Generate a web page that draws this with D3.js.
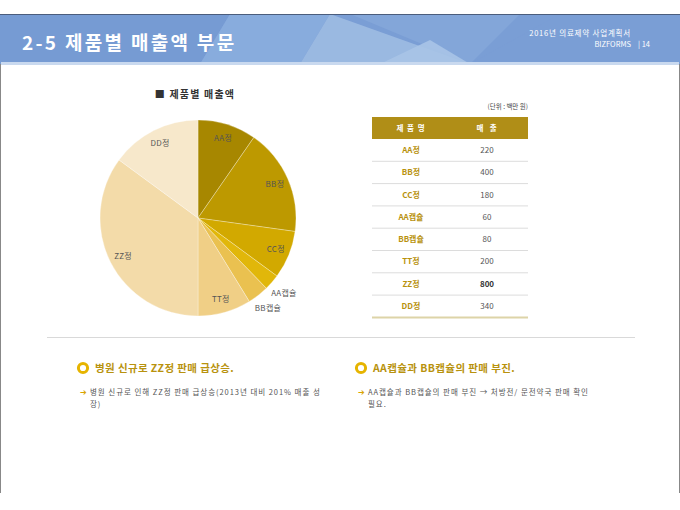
<!DOCTYPE html>
<html><head><meta charset="utf-8">
<script src="https://cdn.jsdelivr.net/npm/d3@7/dist/d3.min.js"></script>
<style>
body{margin:0;background:#fff;}
svg{display:block;font-family:"Noto Sans CJK KR","Noto Sans",sans-serif;}
</style></head>
<body><svg id="c" width="680" height="510"></svg>
<script>
const categories = ["AA정","BB정","CC정","AA캡슐","BB캡슐","TT정","ZZ정","DD정"];
const sales = [220,400,180,60,80,200,800,340];
const sliceColors = ["#a78700","#bd9900","#d2a900","#e1b70a","#eac150","#f0cf86","#f3dba9","#f7e8cb"];
const outsideLabels = ["AA캡슐","BB캡슐"];
const title = "2-5 제품별 매출액 부문";
const headerRight = ["2016년 의료제약 사업계획서","BIZFORMS"];
const pageNo = "14";
const chartTitle = "■ 제품별 매출액";
const unitLabel = "(단위 : 백만 원)";
const tableHeaders = ["제 품 명","매  출"];
const notes = [
  {head:"병원 신규로 ZZ정 판매 급상승.", body:["병원 신규로 인해 ZZ정 판매 급상승(2013년 대비 201% 매출 성","장)"]},
  {head:"AA캡슐과 BB캡슐의 판매 부진.", body:["AA캡슐과 BB캡슐의 판매 부진 → 처방전/ 문전약국 판매 확인","필요."]}
];

const svg = d3.select("#c");

// slide frame
svg.append("rect").attr("x",0).attr("y",14).attr("width",680).attr("height",480).attr("fill","#fff");
svg.append("line").attr("x1",0.5).attr("x2",0.5).attr("y1",14).attr("y2",493).attr("stroke","#888");
svg.append("line").attr("x1",679.5).attr("x2",679.5).attr("y1",14).attr("y2",493).attr("stroke","#888");

// header band
const hdr = svg.append("g");
hdr.append("rect").attr("x",0).attr("y",14).attr("width",680).attr("height",50).attr("fill","#7a9ed5");
const polys = [
  [[0,14],[230,14],[200,64],[0,64]],
  [[230,14],[330,14],[300,64],[200,64]],
  [[330,14],[470,64],[300,64]],
  [[350,14],[520,14],[470,64]],
  [[470,64],[560,14],[680,14],[680,64]],
  [[380,64],[430,40],[470,64]]
];
const pcol = ["#759ad3","#8aadde","#9dbbe2","#84a6d9","#7a9dd5","#a9c4e7"];
polys.forEach((p,i)=>hdr.append("polygon").attr("points",p.map(q=>q.join(",")).join(" ")).attr("fill",pcol[i]).attr("opacity",0.9));
hdr.append("line").attr("x1",0).attr("x2",680).attr("y1",14.5).attr("y2",14.5).attr("stroke","#4b5d7c").attr("stroke-width",1.2);
hdr.append("rect").attr("x",1).attr("y",62).attr("width",678).attr("height",3).attr("fill","#c9d9ef");
hdr.append("text").attr("x",22).attr("y",50).attr("fill","#fff").attr("font-size",19).attr("font-weight","bold").attr("letter-spacing",2.3).text(title);
hdr.append("text").attr("x",631).attr("y",36).attr("text-anchor","end").attr("fill","#fff").attr("font-size",7.5).attr("letter-spacing",0.8).text(headerRight[0]);
hdr.append("text").attr("x",631).attr("y",47).attr("text-anchor","end").attr("fill","#fff").attr("font-size",7.5).text(headerRight[1]);
hdr.append("text").attr("x",638).attr("y",47).attr("fill","#fff").attr("font-size",7.5).text("| " + pageNo);

// chart title
svg.append("text").attr("x",195).attr("y",98).attr("text-anchor","middle").attr("fill","#333").attr("font-size",10).attr("font-weight","bold").attr("letter-spacing",1.2).text(chartTitle);

// pie
const cx = 198, cy = 218, R = 98;
const pie = d3.pie().sort(null).value(d=>d.v);
const data = categories.map((c,i)=>({c, v:sales[i], col:sliceColors[i]}));
const arcs = pie(data);
const arc = d3.arc().innerRadius(0).outerRadius(R);
const inArc = d3.arc().innerRadius(84).outerRadius(84);
const outArc = d3.arc().innerRadius(114).outerRadius(114);
const g = svg.append("g").attr("transform",`translate(${cx},${cy})`);
g.selectAll("path").data(arcs).join("path").attr("d",arc).attr("fill",d=>d.data.col).attr("stroke","#fff").attr("stroke-width",0.3);
g.selectAll("text").data(arcs).join("text")
  .attr("transform",d=>`translate(${(outsideLabels.includes(d.data.c)?outArc:inArc).centroid(d)})`)
  .attr("text-anchor","middle").attr("dy","0.35em").attr("font-size",8).attr("fill","#555").attr("letter-spacing",0.3)
  .text(d=>d.data.c);

// table
const tx0 = 372, tx1 = 528, colMid = [411,487];
const yHead = 117, headH = 22, rowH = 22.3;
const y = d3.scaleBand().domain(categories).range([yHead+headH, yHead+headH+rowH*categories.length]);
svg.append("text").attr("x",tx1).attr("y",109).attr("text-anchor","end").attr("font-size",6.5).attr("fill","#444").text(unitLabel);
svg.append("rect").attr("x",tx0).attr("y",yHead).attr("width",tx1-tx0).attr("height",headH).attr("fill","#b08e17");
tableHeaders.forEach((h,i)=>svg.append("text").attr("x",colMid[i]).attr("y",yHead+headH/2).attr("dy","0.35em").attr("text-anchor","middle").attr("font-size",7.5).attr("font-weight","bold").attr("fill","#fff").attr("letter-spacing",1).attr("xml:space","preserve").text(h));
const rows = svg.append("g");
categories.forEach((c,i)=>{
  const yy = y(c);
  rows.append("text").attr("x",colMid[0]).attr("y",yy+y.bandwidth()/2).attr("dy","0.35em").attr("text-anchor","middle").attr("font-size",8).attr("font-weight","bold").attr("fill","#b8920e").text(c);
  rows.append("text").attr("x",colMid[1]).attr("y",yy+y.bandwidth()/2).attr("dy","0.35em").attr("text-anchor","middle").attr("font-size",8).attr("font-weight",sales[i]===d3.max(sales)?"bold":"normal").attr("fill",sales[i]===d3.max(sales)?"#333":"#555").text(sales[i]);
  const last = i===categories.length-1;
  rows.append("line").attr("x1",tx0).attr("x2",tx1).attr("y1",yy+y.bandwidth()).attr("y2",yy+y.bandwidth())
    .attr("stroke", last?"#ddd4a8":"#dcdcdc").attr("stroke-width", last?2:1);
});

// separator
svg.append("line").attr("x1",47).attr("x2",635).attr("y1",337.5).attr("y2",337.5).attr("stroke","#d9d9d9");

// notes
const noteX = [83, 361];
notes.forEach((n,i)=>{
  const x = noteX[i];
  svg.append("circle").attr("cx",x).attr("cy",368).attr("r",4.6).attr("fill","#fff").attr("stroke","#e6b400").attr("stroke-width",3);
  svg.append("text").attr("x",x+12).attr("y",372).attr("font-size",10.5).attr("font-weight","bold").attr("fill","#b8920e").attr("letter-spacing",0.4).text(n.head);
  svg.append("text").attr("x",x-3).attr("y",395).attr("font-size",8).attr("fill","#d9a400").text("➔");
  n.body.forEach((t,j)=>svg.append("text").attr("x",x+7).attr("y",395+j*11.5).attr("font-size",7.5).attr("fill","#555").attr("letter-spacing",0.95).text(t));
});
</script></body></html>
